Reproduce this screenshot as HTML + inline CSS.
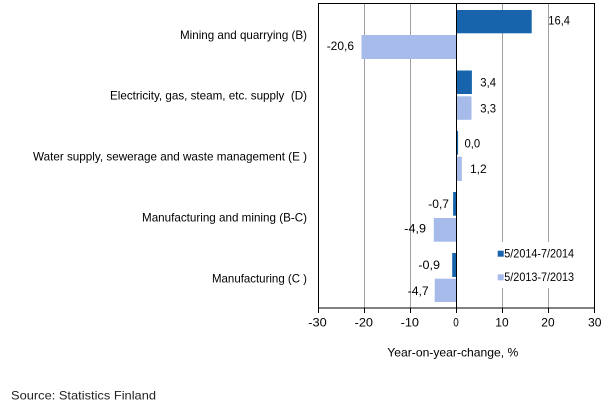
<!DOCTYPE html>
<html>
<head>
<meta charset="utf-8">
<style>
  html,body{margin:0;padding:0;background:#fff;}
  svg{display:block;}
  text{font-family:"Liberation Sans",Arial,sans-serif;fill:#000;}
</style>
</head>
<body>
<svg width="611" height="418" viewBox="0 0 611 418" xmlns="http://www.w3.org/2000/svg">
  <rect x="0" y="0" width="611" height="418" fill="#fff"/>
  <!-- gridlines -->
  <g stroke="#a0a0a0" stroke-width="1">
    <line x1="364.5" y1="4" x2="364.5" y2="308"/>
    <line x1="410.5" y1="4" x2="410.5" y2="308"/>
    <line x1="502.5" y1="4" x2="502.5" y2="308"/>
    <line x1="548.5" y1="4" x2="548.5" y2="308"/>
  </g>
  <!-- legend background -->
  <rect x="492" y="242" width="102" height="46" fill="#fff"/>
  <!-- bars dark -->
  <g fill="#1864ac">
    <rect x="456.3" y="10" width="75.4" height="23.3"/>
    <rect x="456.3" y="70.5" width="15.6" height="23.5"/>
    <rect x="456.3" y="131" width="1.8" height="23.7"/>
    <rect x="453.1" y="192" width="3.2" height="23.7"/>
    <rect x="452.2" y="253" width="4.1" height="24"/>
  </g>
  <!-- bars light -->
  <g fill="#a6bbe9">
    <rect x="361.5" y="35" width="94.8" height="24"/>
    <rect x="456.3" y="96.3" width="15.2" height="23.5"/>
    <rect x="456.3" y="156.7" width="5.5" height="24.3"/>
    <rect x="433.8" y="218" width="22.5" height="23.7"/>
    <rect x="434.7" y="278.7" width="21.6" height="23.3"/>
  </g>
  <!-- zero line -->
  <line x1="456.5" y1="4" x2="456.5" y2="308" stroke="#000" stroke-width="1"/>
  <!-- plot border -->
  <rect x="318.5" y="3.5" width="276" height="304.5" fill="none" stroke="#000" stroke-width="1"/>
  <!-- ticks -->
  <g stroke="#000" stroke-width="1">
    <line x1="318.5" y1="308" x2="318.5" y2="313"/>
    <line x1="364.5" y1="308" x2="364.5" y2="313"/>
    <line x1="410.5" y1="308" x2="410.5" y2="313"/>
    <line x1="456.5" y1="308" x2="456.5" y2="313"/>
    <line x1="502.5" y1="308" x2="502.5" y2="313"/>
    <line x1="548.5" y1="308" x2="548.5" y2="313"/>
    <line x1="594.5" y1="308" x2="594.5" y2="313"/>
  </g>
  <!-- category labels -->
  <g font-size="12" text-anchor="end">
    <text x="307" y="38.8" textLength="127" lengthAdjust="spacingAndGlyphs">Mining and quarrying (B)</text>
    <text x="307" y="99.7" textLength="197" lengthAdjust="spacingAndGlyphs" xml:space="preserve">Electricity, gas, steam, etc. supply  (D)</text>
    <text x="307" y="160.6" textLength="274" lengthAdjust="spacingAndGlyphs">Water supply, sewerage and waste management (E )</text>
    <text x="307" y="221.5" textLength="165" lengthAdjust="spacingAndGlyphs">Manufacturing and mining (B-C)</text>
    <text x="307" y="282.4" textLength="95" lengthAdjust="spacingAndGlyphs">Manufacturing (C )</text>
  </g>
  <!-- value labels -->
  <g font-size="12">
    <text x="548.3" y="24.5" textLength="21.7" lengthAdjust="spacingAndGlyphs">16,4</text>
    <text x="326.7" y="50" textLength="27.3" lengthAdjust="spacingAndGlyphs">-20,6</text>
    <text x="480.3" y="86.5" textLength="15.7" lengthAdjust="spacingAndGlyphs">3,4</text>
    <text x="480.3" y="112.5" textLength="15.7" lengthAdjust="spacingAndGlyphs">3,3</text>
    <text x="464.5" y="147.3" textLength="15.7" lengthAdjust="spacingAndGlyphs">0,0</text>
    <text x="470" y="173" textLength="16.7" lengthAdjust="spacingAndGlyphs">1,2</text>
    <text x="428.3" y="208" textLength="20.7" lengthAdjust="spacingAndGlyphs">-0,7</text>
    <text x="404.3" y="232.5" textLength="21.7" lengthAdjust="spacingAndGlyphs">-4,9</text>
    <text x="418.3" y="269" textLength="21.7" lengthAdjust="spacingAndGlyphs">-0,9</text>
    <text x="407.7" y="295" textLength="21" lengthAdjust="spacingAndGlyphs">-4,7</text>
  </g>
  <!-- x tick labels -->
  <g font-size="12">
    <text x="308.3" y="326.5" textLength="18.4" lengthAdjust="spacingAndGlyphs">-30</text>
    <text x="354.6" y="326.5" textLength="18.4" lengthAdjust="spacingAndGlyphs">-20</text>
    <text x="400.6" y="326.5" textLength="18.4" lengthAdjust="spacingAndGlyphs">-10</text>
    <text x="453.3" y="326.5" textLength="5.5" lengthAdjust="spacingAndGlyphs">0</text>
    <text x="495.3" y="326.5" textLength="13.3" lengthAdjust="spacingAndGlyphs">10</text>
    <text x="541.3" y="326.5" textLength="13.3" lengthAdjust="spacingAndGlyphs">20</text>
    <text x="588" y="326.5" textLength="13.5" lengthAdjust="spacingAndGlyphs">30</text>
  </g>
  <!-- axis title -->
  <text x="387.3" y="356.7" font-size="12" textLength="131" lengthAdjust="spacingAndGlyphs">Year-on-year-change, %</text>
  <!-- legend -->
  <rect x="497.7" y="250.7" width="6" height="6" fill="#1864ac"/>
  <text x="504.3" y="257.4" font-size="12" textLength="69.7" lengthAdjust="spacingAndGlyphs">5/2014-7/2014</text>
  <rect x="497.7" y="274.3" width="6" height="6" fill="#a6bbe9"/>
  <text x="504.3" y="280.8" font-size="12" textLength="69.7" lengthAdjust="spacingAndGlyphs">5/2013-7/2013</text>
  <!-- source -->
  <text x="11" y="399.3" font-size="12" fill="#222" style="fill:#222" textLength="145" lengthAdjust="spacingAndGlyphs">Source: Statistics Finland</text>
</svg>
</body>
</html>
